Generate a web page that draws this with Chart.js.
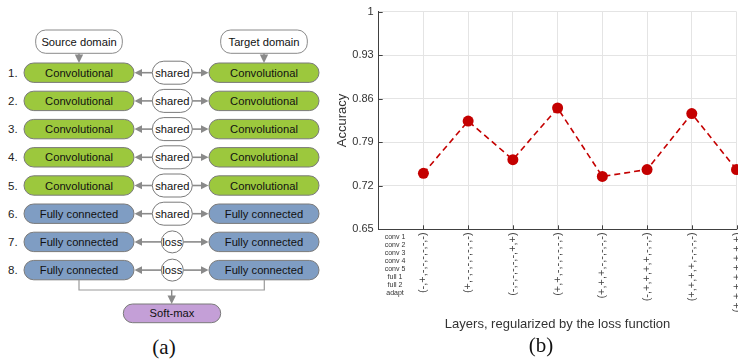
<!DOCTYPE html>
<html lang="en">
<head>
<meta charset="UTF-8">
<title>Layer regularization and accuracy</title>
<script src="https://cdn.jsdelivr.net/npm/chart.js"></script>
<style>
  body { margin: 0; background: #fff; }
  #page { position: relative; width: 738px; height: 364px; overflow: hidden; font-family: "Liberation Sans", Arial, sans-serif; }
  #diagram { position: absolute; left: 0; top: 0; }
  #chartBox { position: absolute; left: 330px; top: 0; width: 440px; height: 334px; }
  .caption { position: absolute; width: 60px; margin-left: -30px; text-align: center; line-height: 24px;
             font-family: "Liberation Serif", "Times New Roman", serif; font-size: 21px; color: #111; }
</style>
</head>
<body>
<div id="page">
  <svg id="diagram" width="330" height="364" xmlns="http://www.w3.org/2000/svg"></svg>
  <div id="chartBox"><canvas id="accChart" width="408" height="334"></canvas></div>
  <div class="caption" style="left:164px; top:335px">(a)</div>
  <div class="caption" style="left:541px; top:333px">(b)</div>
</div>
<script>
// ---- panel (b) data ----
const xPositions = [1, 2, 3, 4, 5, 6, 7, 8];
const accuracy = [0.740, 0.824, 0.762, 0.845, 0.735, 0.746, 0.836, 0.746];
const yTicks = [0.65, 0.72, 0.79, 0.86, 0.93, 1];
const layerNames = ['conv 1', 'conv 2', 'conv 3', 'conv 4', 'conv 5', 'full 1', 'full 2', 'adapt'];
// one string per run, conv 1 first, '+' = layer regularized by the loss
const layerSigns = ['------+-', '-------+', '++------', '------++', '-----+++', '---++++-', '----++++', '++++++++'];

// ---- panel (a) data ----
const rowLayers = ['Convolutional', 'Convolutional', 'Convolutional', 'Convolutional', 'Convolutional',
                   'Fully connected', 'Fully connected', 'Fully connected'];
const rowLinks = ['shared', 'shared', 'shared', 'shared', 'shared', 'shared', 'loss', 'loss'];

// labels are drawn rotated (read bottom to top), so reverse to get conv 1 at the top
const xTickLabels = layerSigns.map(s => '(' + s.split('').reverse().join(',') + ')');

// ---------- diagram (a) ----------
const svg = document.getElementById('diagram');
const NS = 'http://www.w3.org/2000/svg';
function el(tag, attrs, text) {
    const e = document.createElementNS(NS, tag);
    for (const k in attrs) e.setAttribute(k, attrs[k]);
    if (text) e.textContent = text;
    svg.appendChild(e);
    return e;
}
function label(x, y, text, size) {
    el('text', { x: x, y: y, 'text-anchor': 'middle', 'dominant-baseline': 'central',
                 'font-size': size || 11.2, fill: '#111' }, text);
}
const grey = '#8a8a8a';

function arrowH(x1, x2, y) {
    const dir = x2 > x1 ? 1 : -1;
    el('line', { x1: x1, y1: y, x2: x2 - dir * 6, y2: y, stroke: grey, 'stroke-width': 1.6 });
    el('polygon', { points: `${x2},${y} ${x2 - dir * 7.5},${y - 3.8} ${x2 - dir * 7.5},${y + 3.8}`, fill: grey });
}
function arrowDown(x, y1, y2) {
    if (y2 - y1 > 9) el('line', { x1: x, y1: y1, x2: x, y2: y2 - 6, stroke: grey, 'stroke-width': 1.4 });
    el('polygon', { points: `${x},${y2} ${x - 4.2},${y2 - 8.5} ${x + 4.2},${y2 - 8.5}`, fill: grey });
}

// domain boxes
el('rect', { x: 35.7, y: 30, width: 86.6, height: 23.3, rx: 10, fill: '#fff', stroke: grey, 'stroke-width': 1 });
label(79, 41.8, 'Source domain');
el('rect', { x: 220.7, y: 30, width: 86.6, height: 23.3, rx: 10, fill: '#fff', stroke: grey, 'stroke-width': 1 });
label(264, 41.8, 'Target domain');
arrowDown(79, 53.5, 63);
arrowDown(264, 53.5, 63);

rowLayers.forEach((name, i) => {
    const cy = 72.7 + 28.2 * i;
    const fill = name === 'Convolutional' ? '#9cc83d' : '#7f9dc3';
    el('text', { x: 8, y: cy, 'dominant-baseline': 'central', 'font-size': 11.5, fill: '#222' }, (i + 1) + '.');
    el('rect', { x: 24, y: cy - 9.7, width: 110, height: 19.4, rx: 9.7, fill: fill, stroke: '#7a7a7a', 'stroke-width': 1 });
    label(79, cy, name);
    el('rect', { x: 209, y: cy - 9.7, width: 110, height: 19.4, rx: 9.7, fill: fill, stroke: '#7a7a7a', 'stroke-width': 1 });
    label(264, cy, name);
    let l, r;
    if (rowLinks[i] === 'shared') {
        el('rect', { x: 152.3, y: cy - 11.5, width: 40, height: 23, rx: 11.5, fill: '#fff', stroke: '#7a7a7a', 'stroke-width': 1 });
        l = 152.3; r = 192.3;
    } else {
        el('circle', { cx: 172.3, cy: cy, r: 11, fill: '#fff', stroke: '#7a7a7a', 'stroke-width': 1 });
        l = 161.3; r = 183.3;
    }
    label(172.3, cy, rowLinks[i]);
    arrowH(l, 134.5, cy);
    arrowH(r, 208.5, cy);
});

// join to soft-max
el('path', { d: 'M79 280 V290 H264.3 V280', fill: 'none', stroke: '#9a9a9a', 'stroke-width': 1.2 });
arrowDown(171.7, 290, 304);
el('rect', { x: 123.3, y: 304, width: 97.4, height: 18.7, rx: 9.3, fill: '#c49fd7', stroke: '#7a7a7a', 'stroke-width': 1 });
label(172, 313.4, 'Soft-max');

// ---------- chart (b) ----------
Chart.defaults.font.family = '"Liberation Sans", Arial, sans-serif';

const matlabTicks = {
    id: 'matlabTicks',
    beforeDatasetsDraw(chart) {
        const { ctx, chartArea, scales: { x, y } } = chart;
        ctx.save();
        ctx.strokeStyle = '#404040';
        ctx.lineWidth = 1;
        ctx.beginPath();
        yTicks.forEach(v => {
            const py = Math.round(y.getPixelForValue(v)) + 0.5;
            ctx.moveTo(chartArea.left, py);
            ctx.lineTo(chartArea.left + 4, py);
        });
        xPositions.forEach(v => {
            const px = Math.round(x.getPixelForValue(v)) + 0.5;
            ctx.moveTo(px, chartArea.bottom);
            ctx.lineTo(px, chartArea.bottom - 4);
        });
        ctx.stroke();
        ctx.restore();
    },
    afterDraw(chart) {
        const { ctx, chartArea } = chart;
        ctx.save();
        ctx.fillStyle = '#333';
        ctx.font = '7px "Liberation Sans", Arial, sans-serif';
        ctx.textAlign = 'center';
        ctx.textBaseline = 'middle';
        layerNames.forEach((n, i) => ctx.fillText(n, chartArea.left + 16.3, chartArea.bottom + 7.4 + 8 * i));
        ctx.restore();
    }
};

const canvas = document.getElementById('accChart');
const plotRight = 406;   // chart area right edge inside the canvas

function makeChart(width) {
    canvas.width = width;
    canvas.height = 334;
    return new Chart(canvas, {
        type: 'line',
        data: {
            datasets: [{
                data: xPositions.map((x, i) => ({ x: x, y: accuracy[i] })),
                borderColor: '#c40000',
                borderWidth: 1.6,
                borderDash: [6, 4],
                pointRadius: 5.5,
                pointBackgroundColor: '#c40000',
                pointBorderWidth: 0,
                tension: 0,
                clip: false
            }]
        },
        options: {
            responsive: false,
            animation: false,
            devicePixelRatio: 1,
            layout: { padding: { top: 10, right: 2, bottom: 0, left: 0 } },
            plugins: { legend: { display: false }, tooltip: { enabled: false } },
            scales: {
                x: {
                    type: 'linear',
                    min: 0,
                    max: 8,
                    afterBuildTicks: s => { s.ticks = xPositions.map(v => ({ value: v })); },
                    afterFit: s => { s.height = 104.7; s.paddingLeft = 0; s.paddingRight = 0; },
                    grid: { color: '#e4e4e4', drawTicks: false },
                    border: { color: '#404040' },
                    ticks: {
                        autoSkip: false, minRotation: 90, maxRotation: 90, padding: 3,
                        font: { size: 11 }, color: '#444',
                        callback: (v, i) => xTickLabels[i]
                    },
                    title: {
                        display: true, text: 'Layers, regularized by the loss function',
                        font: { size: 13 }, color: '#333', padding: { top: 0, bottom: 2 }
                    }
                },
                y: {
                    min: 0.65,
                    max: 1,
                    afterBuildTicks: s => { s.ticks = yTicks.map(v => ({ value: v })); },
                    afterFit: s => { s.width = 48.7; },
                    grid: { color: '#e4e4e4', drawTicks: false },
                    border: { color: '#404040' },
                    ticks: { padding: 5, font: { size: 11 }, color: '#333', callback: v => String(v) },
                    title: {
                        display: true, text: 'Accuracy',
                        font: { size: 13 }, color: '#333', padding: { top: 5, bottom: 0 }
                    }
                }
            }
        },
        plugins: [matlabTicks]
    });
}

// the rotated tick labels make Chart.js reserve some room on the right;
// widen the canvas by that much so the plot still ends at plotRight
let chart = makeChart(408);
const extra = Math.round(408 - chart.chartArea.right - (408 - plotRight));
if (extra !== 0) {
    chart.destroy();
    chart = makeChart(408 + extra);
}
</script>
</body>
</html>
